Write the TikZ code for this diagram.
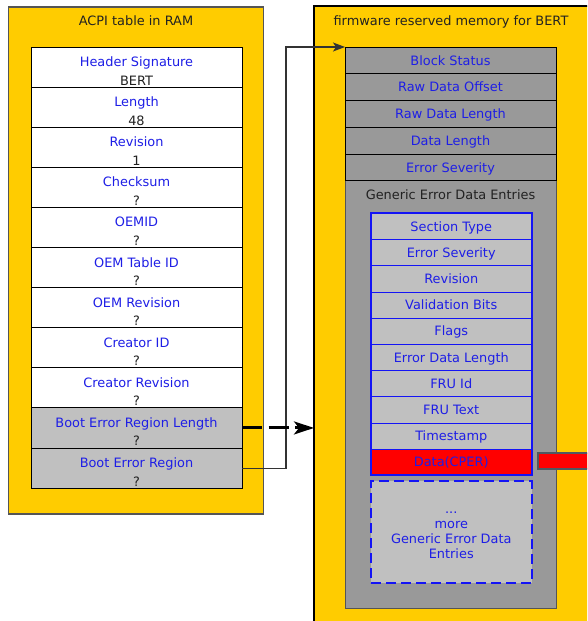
\documentclass[tikz,border=0pt]{standalone}
\usepackage{fontspec}
\setmainfont{DejaVu Sans}
\usetikzlibrary{arrows.meta}
\definecolor{memyellow}{HTML}{FFCC00}
\definecolor{regiongray}{HTML}{999999}
\definecolor{silver}{HTML}{C0C0C0}
\definecolor{fieldblue}{RGB}{30,30,230}
\definecolor{entryblue}{RGB}{20,20,245}
\definecolor{textdark}{HTML}{222222}
\definecolor{framegray}{HTML}{555555}
\definecolor{linkgray}{HTML}{333333}
\definecolor{bargray}{HTML}{505860}
\begin{document}
\begin{tikzpicture}[x=1pt,y=-1pt,
  font=\fontsize{12.9pt}{15pt}\selectfont,
  container/.style={rectangle, anchor=north west, inner sep=0pt, outer sep=0pt, fill=memyellow},
  lrow/.style={draw=black, line width=0.9pt, anchor=north west, minimum width=211pt,
    minimum height=40.1pt, inner sep=0pt, outer sep=0pt},
  lbl/.style={anchor=base, text=fieldblue, inner sep=0pt},
  val/.style={anchor=base, text=textdark, inner sep=0pt},
  hrow/.style={draw=black, line width=0.8pt, fill=regiongray, anchor=north west,
    minimum width=211pt, minimum height=26.75pt, inner sep=0pt, outer sep=0pt,
    text height=9.4pt, text depth=0pt, text=fieldblue},
  erow/.style={draw=entryblue, line width=0.8pt, anchor=north west,
    minimum width=160.5pt, minimum height=26.2pt, inner sep=0pt, outer sep=0pt,
    text height=9.4pt, text depth=0pt, text=fieldblue}
]
\useasboundingbox (0,0) rectangle (587,621);
\clip (0,0) rectangle (587,621);

% ACPI table container
\node[container, draw=framegray, line width=1.2pt, minimum width=255pt, minimum height=507pt]
  (acpi) at (8.5,7) {};
\node[anchor=base, text=textdark] (acpititle) at ([yshift=-18.7pt]acpi.north) {ACPI table in RAM};

\foreach \i/\lab/\val/\bg in {1/Header Signature/BERT/white, 2/Length/48/white,
    3/Revision/1/white, 4/Checksum/?/white, 5/OEMID/?/white, 6/OEM Table ID/?/white,
    7/OEM Revision/?/white, 8/Creator ID/?/white, 9/Creator Revision/?/white,
    10/Boot Error Region Length/?/silver, 11/Boot Error Region/?/silver}{
  \node[lrow, fill=\bg] (r\i) at (31, {47+40.1*(\i-1)}) {};
  \node[lbl] (r\i-name) at ([yshift=-19.5pt]r\i.north) {\lab};
  \node[val] (r\i-val) at ([yshift=-38pt]r\i.north) {\val};
}

% firmware reserved memory container
\node[container, draw=black, line width=2.5pt, minimum width=300pt, minimum height=640pt]
  (fw) at (314,6) {};
\node[anchor=base, text=textdark] (fwtitle) at (451,25.5) {firmware reserved memory for BERT};

\node[anchor=north west, fill=regiongray, draw=framegray, line width=0.9pt,
  minimum width=211pt, minimum height=561pt, inner sep=0pt, outer sep=0pt] (gr) at (345,47) {};

\foreach \i/\lab in {1/Block Status, 2/Raw Data Offset, 3/Raw Data Length,
    4/Data Length, 5/Error Severity}{
  \node[hrow] (h\i) at (345, {47+26.75*(\i-1)}) {\lab};
}
\draw[black, line width=0.8pt] (h5.south west) -- (h5.south east);
\node[anchor=base, text=textdark] (gehead) at (450.5,199.7) {Generic Error Data Entries};

% one generic error data entry
\foreach \i/\lab/\bg in {1/Section Type/silver, 2/Error Severity/silver, 3/Revision/silver,
    4/Validation Bits/silver, 5/Flags/silver, 6/Error Data Length/silver, 7/FRU Id/silver,
    8/FRU Text/silver, 9/Timestamp/silver, 10/Data(CPER)/red}{
  \node[erow, fill=\bg] (g\i) at (371, {213.3+26.2*(\i-1)}) {\lab};
}
\draw[entryblue, line width=2pt] (g1.north west) rectangle (g10.south east);

% further entries
\node[anchor=north west, draw=entryblue, dash pattern=on 10pt off 5pt, line width=2pt,
  fill=silver, minimum width=160.5pt, minimum height=102pt, inner sep=0pt, outer sep=0pt]
  (more) at (371,481) {};
\node[align=center, text=fieldblue, inner sep=0pt] (moretxt) at ([yshift=-3.5pt]more.center)
  {...\\more\\Generic Error Data\\Entries};

% CPER data leaving the region
\node[anchor=north west, fill=red, draw=bargray, line width=1.5pt, minimum width=70pt,
  minimum height=16pt, inner sep=0pt, outer sep=0pt] (cper) at (538,453) {};

% pointers
\coordinate (bend) at (286,0);
\draw[draw=linkgray, line width=1.1pt, -{Stealth[length=12pt,width=9pt,inset=3pt]}]
  (r11.east) -- (r11.east -| bend) |- (h1.north west);
\draw[black, line width=3pt, dash pattern=on 20pt off 6.5pt,
  -{Stealth[length=20pt,width=13pt,inset=5pt]}]
  (r10.east) -- (r10.east -| fw.west);
\end{tikzpicture}
\end{document}
